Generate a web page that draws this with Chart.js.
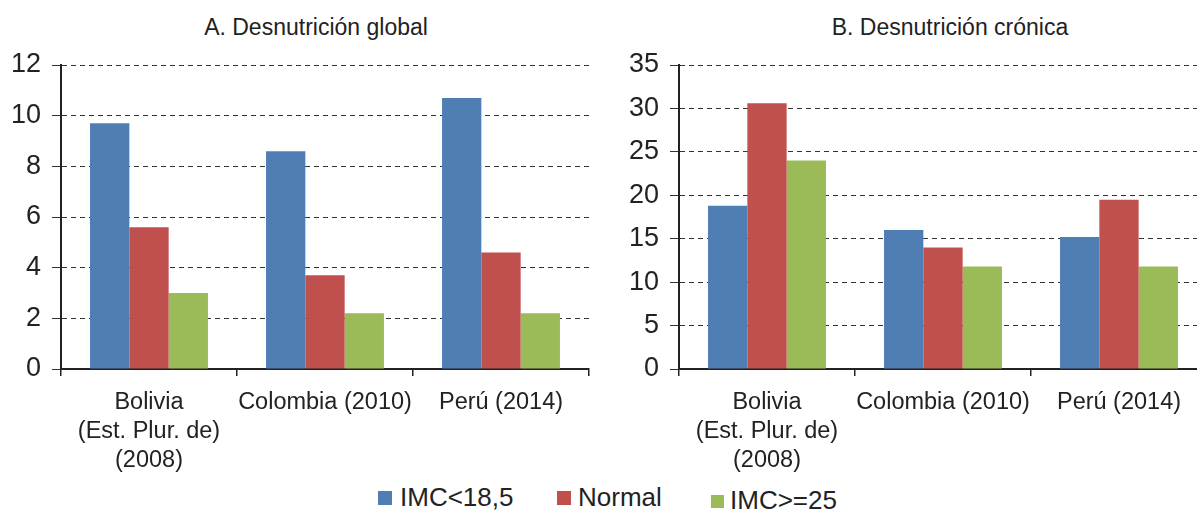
<!DOCTYPE html>
<html lang="es">
<head>
<meta charset="UTF-8" />
<title>Desnutrición</title>
<script src="https://cdn.jsdelivr.net/npm/chart.js"></script>
<style>
  html, body { margin: 0; padding: 0; background: #fff; overflow: hidden; }
  body { width: 1197px; height: 513px; position: relative; font-family: 'Liberation Sans', Arial, sans-serif; color: #222; }
  .title { position: absolute; top: 13px; font-size: 23px; line-height: 28px; transform: translateX(-50%); white-space: nowrap; }
  .box { position: absolute; top: 0; }
  .legend { position: absolute; font-size: 26px; line-height: 30px; white-space: nowrap; }
  .legend span.sw { display: inline-block; width: 14px; height: 14px; margin-right: 8px; vertical-align: 1px; }
</style>
</head>
<body>
  <div class="title" style="left:316px">A. Desnutrición global</div>
  <div class="title" style="left:950px">B. Desnutrición crónica</div>
  <div class="box" style="left:0"><canvas id="chartA" width="600" height="480"></canvas></div>
  <div class="box" style="left:600px"><canvas id="chartB" width="620" height="480"></canvas></div>

  <div class="legend" style="left:378px;top:482px"><span class="sw" style="background:#4F7EB5"></span>IMC&lt;18,5</div>
  <div class="legend" style="left:557px;top:482px"><span class="sw" style="background:#C0504D;margin-right:7px"></span>Normal</div>
  <div class="legend" style="left:711px;top:485px"><span class="sw" style="background:#9BBB59;width:13px;height:13px;margin-right:6px"></span>IMC&gt;=25</div>

<script>
  const countries = [["Bolivia", "(Est. Plur. de)", "(2008)"], "Colombia (2010)", "Perú (2014)"];
  const seriesNames = ["IMC<18,5", "Normal", "IMC>=25"];
  const colors = ["#4F7EB5", "#C0504D", "#9BBB59"];

  // A. Desnutrición global
  const globalBajo = [9.7, 8.6, 10.7];
  const globalNormal = [5.6, 3.7, 4.6];
  const globalAlto = [3.0, 2.2, 2.2];

  // B. Desnutrición crónica
  const cronicaBajo = [18.8, 16.0, 15.2];
  const cronicaNormal = [30.6, 14.0, 19.5];
  const cronicaAlto = [24.0, 11.8, 11.8];

  const ticksA = { max: 12, step: 2 };
  const ticksB = { max: 35, step: 5 };

  const fontFamily = "'Liberation Sans', Arial, sans-serif";

  function makeChart(id, series, ticks, axisWidth, padRight) {
    const ctx = document.getElementById(id).getContext("2d");
    return new Chart(ctx, {
      type: "bar",
      data: {
        labels: countries,
        datasets: series.map((d, i) => ({
          label: seriesNames[i],
          data: d,
          backgroundColor: colors[i],
          borderWidth: 0
        }))
      },
      options: {
        responsive: false,
        animation: false,
        layout: { padding: { top: 65, right: padRight, left: 0, bottom: 0 } },
        plugins: { legend: { display: false }, tooltip: { enabled: false } },
        datasets: { bar: { categoryPercentage: 0.67, barPercentage: 1 } },
        scales: {
          x: {
            offset: true,
            grid: { offset: true, drawOnChartArea: false, drawTicks: true, tickLength: 7, color: "#222", lineWidth: 1.5 },
            border: { color: "#222", width: 2 },
            ticks: {
              color: "#222",
              font: { family: fontFamily, size: 23.5, lineHeight: 1.24 },
              padding: 12,
              maxRotation: 0,
              autoSkip: false
            },
            afterFit: s => { s.height = 111; }
          },
          y: {
            min: 0,
            max: ticks.max,
            ticks: {
              stepSize: ticks.step,
              color: "#222",
              font: { family: fontFamily, size: 27 },
              padding: 11
            },
            grid: {
              color: "#333",
              lineWidth: 1,
              tickBorderDash: [],
              tickLength: 9,
              drawTicks: true
            },
            border: { color: "#222", width: 2, dash: [5, 4] },
            afterFit: s => { s.width = axisWidth; }
          }
        }
      }
    });
  }

  makeChart("chartA", [globalBajo, globalNormal, globalAlto], ticksA, 61, 11);
  makeChart("chartB", [cronicaBajo, cronicaNormal, cronicaAlto], ticksB, 79, 13);
</script>
</body>
</html>
